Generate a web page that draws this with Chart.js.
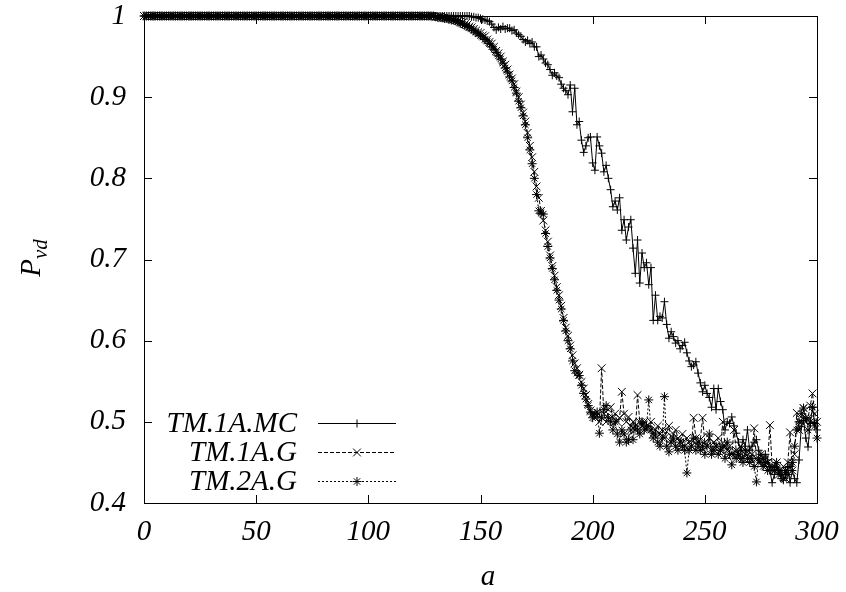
<!DOCTYPE html>
<html>
<head>
<meta charset="utf-8">
<script src="https://cdn.jsdelivr.net/npm/chart.js@4/dist/chart.umd.min.js"></script>
<style>
html, body { margin: 0; padding: 0; background: #fff; }
#wrap { width: 846px; height: 592px; }
</style>
</head>
<body>
<div id="wrap"><canvas id="pvdChart" width="846" height="592"></canvas></div>
<script>
// a values
var aValues = [
  0, 1, 2, 3, 4, 5, 6, 7, 8, 9, 10, 11, 12, 13, 14, 15, 16, 17, 18, 19,
  20, 21, 22, 23, 24, 25, 26, 27, 28, 29, 30, 31, 32, 33, 34, 35, 36, 37, 38, 39,
  40, 41, 42, 43, 44, 45, 46, 47, 48, 49, 50, 51, 52, 53, 54, 55, 56, 57, 58, 59,
  60, 61, 62, 63, 64, 65, 66, 67, 68, 69, 70, 71, 72, 73, 74, 75, 76, 77, 78, 79,
  80, 81, 82, 83, 84, 85, 86, 87, 88, 89, 90, 91, 92, 93, 94, 95, 96, 97, 98, 99,
  100, 101, 102, 103, 104, 105, 106, 107, 108, 109, 110, 111, 112, 113, 114, 115, 116, 117, 118, 119,
  120, 121, 122, 123, 124, 125, 126, 127, 128, 129, 130, 131, 132, 133, 134, 135, 136, 137, 138, 139,
  140, 141, 142, 143, 144, 145, 146, 147, 148, 149, 150, 151, 152, 153, 154, 155, 156, 157, 158, 159,
  160, 161, 162, 163, 164, 165, 166, 167, 168, 169, 170, 171, 172, 173, 174, 175, 176, 177, 178, 179,
  180, 181, 182, 183, 184, 185, 186, 187, 188, 189, 190, 191, 192, 193, 194, 195, 196, 197, 198, 199,
  200, 201, 202, 203, 204, 205, 206, 207, 208, 209, 210, 211, 212, 213, 214, 215, 216, 217, 218, 219,
  220, 221, 222, 223, 224, 225, 226, 227, 228, 229, 230, 231, 232, 233, 234, 235, 236, 237, 238, 239,
  240, 241, 242, 243, 244, 245, 246, 247, 248, 249, 250, 251, 252, 253, 254, 255, 256, 257, 258, 259,
  260, 261, 262, 263, 264, 265, 266, 267, 268, 269, 270, 271, 272, 273, 274, 275, 276, 277, 278, 279,
  280, 281, 282, 283, 284, 285, 286, 287, 288, 289, 290, 291, 292, 293, 294, 295, 296, 297, 298, 299,
  300
];

// TM.1A.MC  (a = 0 .. 145 at 1)
var mc1A = [
  1, 1, 1, 1, 1, 1, 1, 1, 1, 1, 1, 1, 1, 1, 1, 1, 1, 1, 1, 1,
  1, 1, 1, 1, 1, 1, 1, 1, 1, 1, 1, 1, 1, 1, 1, 1, 1, 1, 1, 1,
  1, 1, 1, 1, 1, 1, 1, 1, 1, 1, 1, 1, 1, 1, 1, 1, 1, 1, 1, 1,
  1, 1, 1, 1, 1, 1, 1, 1, 1, 1, 1, 1, 1, 1, 1, 1, 1, 1, 1, 1,
  1, 1, 1, 1, 1, 1, 1, 1, 1, 1, 1, 1, 1, 1, 1, 1, 1, 1, 1, 1,
  1, 1, 1, 1, 1, 1, 1, 1, 1, 1, 1, 1, 1, 1, 1, 1, 1, 1, 1, 1,
  1, 1, 1, 1, 1, 1, 1, 1, 1, 1, 1, 1, 1, 1, 1, 1, 1, 1, 1, 1,
  1, 1, 1, 1, 1, 1,
  0.999, 0.999, 0.998, 0.998, 0.997, 0.996, 0.995, 0.994, 0.993, 0.990,
  0.986, 0.983, 0.986, 0.984, 0.987, 0.984, 0.985, 0.985, 0.982, 0.983,
  0.979, 0.977, 0.975, 0.971, 0.968, 0.970, 0.966, 0.968, 0.962, 0.962,
  0.950, 0.952, 0.947, 0.942, 0.940, 0.934, 0.927, 0.930, 0.926, 0.924,
  0.916, 0.911, 0.908, 0.903, 0.915, 0.882, 0.911, 0.866, 0.870, 0.847,
  0.832, 0.840, 0.850, 0.851, 0.819, 0.810, 0.851, 0.840, 0.831, 0.808,
  0.816, 0.800, 0.786, 0.765, 0.772, 0.761, 0.776, 0.736, 0.749, 0.724,
  0.740, 0.749, 0.714, 0.683, 0.724, 0.671, 0.708, 0.690, 0.696, 0.669,
  0.690, 0.625, 0.656, 0.625, 0.630, 0.628, 0.648, 0.620, 0.603, 0.611,
  0.605, 0.597, 0.600, 0.590, 0.594, 0.598, 0.585, 0.575, 0.568, 0.570,
  0.574, 0.560, 0.548, 0.537, 0.545, 0.535, 0.530, 0.518, 0.541, 0.515,
  0.541, 0.525, 0.515, 0.490, 0.500, 0.498, 0.506, 0.495, 0.486, 0.475,
  0.465, 0.478, 0.470, 0.490, 0.465, 0.470, 0.475, 0.478, 0.465, 0.460,
  0.455, 0.460, 0.453, 0.440, 0.425, 0.435, 0.444, 0.437, 0.430, 0.428,
  0.435, 0.444, 0.425, 0.440, 0.430, 0.425, 0.453, 0.494, 0.502, 0.480,
  0.469, 0.498, 0.518, 0.498, 0.490
];

// TM.1A.G  (a = 0 .. 129 at 1)
var g1A = [
  1, 1, 1, 1, 1, 1, 1, 1, 1, 1, 1, 1, 1, 1, 1, 1, 1, 1, 1, 1,
  1, 1, 1, 1, 1, 1, 1, 1, 1, 1, 1, 1, 1, 1, 1, 1, 1, 1, 1, 1,
  1, 1, 1, 1, 1, 1, 1, 1, 1, 1, 1, 1, 1, 1, 1, 1, 1, 1, 1, 1,
  1, 1, 1, 1, 1, 1, 1, 1, 1, 1, 1, 1, 1, 1, 1, 1, 1, 1, 1, 1,
  1, 1, 1, 1, 1, 1, 1, 1, 1, 1, 1, 1, 1, 1, 1, 1, 1, 1, 1, 1,
  1, 1, 1, 1, 1, 1, 1, 1, 1, 1, 1, 1, 1, 1, 1, 1, 1, 1, 1, 1,
  1, 1, 1, 1, 1, 1, 1, 1, 1, 1,
  0.999, 0.999, 0.999, 0.998, 0.998, 0.997, 0.997, 0.996, 0.996, 0.995,
  0.994, 0.993, 0.992, 0.990, 0.989, 0.987, 0.986, 0.984, 0.982, 0.980,
  0.979, 0.976, 0.975, 0.971, 0.968, 0.966, 0.962, 0.957, 0.954, 0.950,
  0.944, 0.940, 0.934, 0.928, 0.923, 0.916, 0.907, 0.900, 0.891, 0.881,
  0.870, 0.856, 0.840, 0.826, 0.808, 0.790, 0.776, 0.760, 0.748, 0.736,
  0.722, 0.705, 0.692, 0.680, 0.666, 0.656, 0.643, 0.628, 0.616, 0.606,
  0.594, 0.582, 0.572, 0.566, 0.558, 0.549, 0.541, 0.533, 0.522, 0.514,
  0.510,
  0.505, 0.508, 0.500, 0.566, 0.510, 0.500, 0.515, 0.518, 0.505, 0.510,
  0.500, 0.505, 0.537, 0.510, 0.500, 0.506, 0.495, 0.500, 0.490, 0.533,
  0.500, 0.495, 0.500, 0.490, 0.495, 0.500, 0.485, 0.490, 0.495, 0.485,
  0.490, 0.480, 0.488, 0.495, 0.475, 0.485, 0.490, 0.480, 0.475, 0.485,
  0.470, 0.480, 0.475, 0.470, 0.505, 0.480, 0.470, 0.478, 0.505, 0.475,
  0.470, 0.480, 0.465, 0.475, 0.470, 0.480, 0.465, 0.500, 0.470, 0.465,
  0.470, 0.460, 0.490, 0.465, 0.460, 0.470, 0.455, 0.460, 0.465, 0.455,
  0.460, 0.492, 0.455, 0.450, 0.460, 0.455, 0.445, 0.450, 0.496, 0.445,
  0.440, 0.450, 0.435, 0.440, 0.445, 0.430, 0.450, 0.487, 0.440, 0.460,
  0.511, 0.490, 0.500, 0.517, 0.500, 0.505, 0.520, 0.535, 0.510, 0.500
];

// TM.2A.G  (a = 0 .. 129 at 1)
var g2A = [
  1, 1, 1, 1, 1, 1, 1, 1, 1, 1, 1, 1, 1, 1, 1, 1, 1, 1, 1, 1,
  1, 1, 1, 1, 1, 1, 1, 1, 1, 1, 1, 1, 1, 1, 1, 1, 1, 1, 1, 1,
  1, 1, 1, 1, 1, 1, 1, 1, 1, 1, 1, 1, 1, 1, 1, 1, 1, 1, 1, 1,
  1, 1, 1, 1, 1, 1, 1, 1, 1, 1, 1, 1, 1, 1, 1, 1, 1, 1, 1, 1,
  1, 1, 1, 1, 1, 1, 1, 1, 1, 1, 1, 1, 1, 1, 1, 1, 1, 1, 1, 1,
  1, 1, 1, 1, 1, 1, 1, 1, 1, 1, 1, 1, 1, 1, 1, 1, 1, 1, 1, 1,
  1, 1, 1, 1, 1, 1, 1, 1, 1, 1,
  0.999, 0.998, 0.998, 0.998, 0.997, 0.997, 0.996, 0.995, 0.995, 0.994,
  0.993, 0.991, 0.990, 0.989, 0.987, 0.986, 0.984, 0.982, 0.980, 0.978,
  0.976, 0.974, 0.971, 0.969, 0.966, 0.962, 0.959, 0.955, 0.951, 0.947,
  0.942, 0.936, 0.931, 0.925, 0.920, 0.912, 0.905, 0.895, 0.887, 0.877,
  0.866, 0.850, 0.835, 0.818, 0.800, 0.780, 0.760, 0.757, 0.756, 0.732,
  0.716, 0.702, 0.689, 0.675, 0.662, 0.650, 0.639, 0.625, 0.612, 0.600,
  0.590, 0.575, 0.563, 0.560, 0.557, 0.545, 0.535, 0.528, 0.520, 0.512,
  0.505,
  0.510, 0.512, 0.486, 0.505, 0.515, 0.520, 0.505, 0.500, 0.490, 0.500,
  0.485, 0.475, 0.490, 0.485, 0.475, 0.478, 0.490, 0.478, 0.495, 0.490,
  0.485, 0.500, 0.490, 0.495, 0.527, 0.490, 0.480, 0.485, 0.475, 0.470,
  0.480, 0.531, 0.470, 0.463, 0.475, 0.480, 0.470, 0.465, 0.475, 0.470,
  0.465, 0.437, 0.465, 0.470, 0.480, 0.465, 0.475, 0.465, 0.470, 0.460,
  0.470, 0.485, 0.460, 0.465, 0.470, 0.460, 0.465, 0.470, 0.455, 0.475,
  0.460, 0.447, 0.460, 0.455, 0.460, 0.455, 0.450, 0.465, 0.455, 0.450,
  0.455, 0.445, 0.426, 0.455, 0.450, 0.445, 0.450, 0.440, 0.445, 0.440,
  0.445, 0.450, 0.440, 0.435, 0.430, 0.440, 0.435, 0.445, 0.450, 0.470,
  0.490, 0.500, 0.510, 0.517, 0.505, 0.490, 0.500, 0.518, 0.495, 0.480
];

var seriesNames = ["TM.1A.MC", "TM.1A.G", "TM.2A.G"];
var xTicks = [0, 50, 100, 150, 200, 250, 300];
var yTicks = [0.4, 0.5, 0.6, 0.7, 0.8, 0.9, 1];

var serif = "'Liberation Serif', 'DejaVu Serif', serif";

function toPoints(ys) {
  return aValues.map(function(a, i) { return { x: a, y: ys[i] }; });
}

// frame with inward ticks, like gnuplot
var framePlugin = {
  id: 'frame',
  afterDatasetsDraw: function(chart) {
    var ctx = chart.ctx, area = chart.chartArea;
    var xs = chart.scales.x, ys = chart.scales.y;
    ctx.save();
    ctx.strokeStyle = '#000';
    ctx.lineWidth = 1;
    ctx.setLineDash([]);
    ctx.strokeRect(area.left + 0.5, area.top + 0.5, area.right - area.left, area.bottom - area.top);
    ctx.beginPath();
    xTicks.forEach(function(v) {
      var px = Math.round(xs.getPixelForValue(v)) + 0.5;
      ctx.moveTo(px, area.bottom); ctx.lineTo(px, area.bottom - 8);
      ctx.moveTo(px, area.top); ctx.lineTo(px, area.top + 8);
    });
    yTicks.forEach(function(v) {
      var py = Math.round(ys.getPixelForValue(v)) + 0.5;
      ctx.moveTo(area.left, py); ctx.lineTo(area.left + 8, py);
      ctx.moveTo(area.right, py); ctx.lineTo(area.right - 8, py);
    });
    ctx.stroke();
    ctx.restore();
  }
};

// axis titles and the key (inside the plot, bottom left)
var labelPlugin = {
  id: 'labels',
  afterDraw: function(chart) {
    var ctx = chart.ctx;
    ctx.save();
    ctx.fillStyle = '#000';
    ctx.textBaseline = 'alphabetic';

    ctx.font = 'italic 29px ' + serif;
    ctx.textAlign = 'center';
    ctx.fillText('a', 488, 585);

    // P_vd, rotated
    ctx.translate(40, 258);
    ctx.rotate(-Math.PI / 2);
    ctx.textAlign = 'left';
    ctx.font = 'italic 29px ' + serif;
    var pw = ctx.measureText('P').width;
    ctx.font = 'italic 21px ' + serif;
    var sw = ctx.measureText('vd').width;
    var start = -(pw + sw) / 2;
    ctx.font = 'italic 29px ' + serif;
    ctx.fillText('P', start, 0);
    ctx.font = 'italic 21px ' + serif;
    ctx.fillText('vd', start + pw, 7);
    ctx.restore();

    ctx.save();
    var rows = [423, 452, 481];
    chart.data.datasets.forEach(function(ds, i) {
      var y = rows[i];
      ctx.fillStyle = '#000';
      ctx.font = 'italic 29px ' + serif;
      ctx.textAlign = 'right';
      ctx.textBaseline = 'middle';
      ctx.fillText(seriesNames[i], 297, y + 1);
      ctx.strokeStyle = '#000';
      ctx.lineWidth = 1;
      ctx.setLineDash(ds.borderDash || []);
      ctx.beginPath();
      ctx.moveTo(318, y + 0.5);
      ctx.lineTo(396, y + 0.5);
      ctx.stroke();
      ctx.setLineDash([]);
      Chart.helpers.drawPoint(ctx, {
        pointStyle: ds.pointStyle,
        radius: ds.pointRadius,
        borderWidth: 1,
        rotation: 0
      }, 357, y + 0.5);
    });
    ctx.restore();
  }
};

var ctx = document.getElementById('pvdChart');
var pvdChart = new Chart(ctx, {
  type: 'line',
  data: {
    datasets: [{
      label: seriesNames[0],
      data: toPoints(mc1A),
      borderColor: '#000',
      borderWidth: 1,
      pointStyle: 'cross',
      pointRadius: 4,
      pointBorderColor: '#000',
      pointBorderWidth: 1,
      fill: false,
      clip: false
    }, {
      label: seriesNames[1],
      data: toPoints(g1A),
      borderColor: '#000',
      borderWidth: 1,
      borderDash: [4, 2],
      pointStyle: 'crossRot',
      pointRadius: 5.5,
      pointBorderColor: '#000',
      pointBorderWidth: 1,
      fill: false,
      clip: false
    }, {
      label: seriesNames[2],
      data: toPoints(g2A),
      borderColor: '#000',
      borderWidth: 1,
      borderDash: [2, 2],
      pointStyle: 'star',
      pointRadius: 4.5,
      pointBorderColor: '#000',
      pointBorderWidth: 1,
      fill: false,
      clip: false
    }]
  },
  options: {
    responsive: false,
    animation: false,
    devicePixelRatio: 1,
    layout: { padding: { left: 0, right: 29, top: 16, bottom: 0 } },
    plugins: {
      legend: { display: false },
      tooltip: { enabled: false }
    },
    elements: { line: { tension: 0 } },
    scales: {
      x: {
        type: 'linear',
        min: 0,
        max: 300,
        afterBuildTicks: function(scale) {
          scale.ticks = xTicks.map(function(v) { return { value: v }; });
        },
        afterFit: function(scale) {
          scale.height = 89;
          scale.paddingLeft = 0; scale.paddingRight = 0;
        },
        grid: { display: false, drawTicks: false },
        border: { display: false },
        ticks: {
          color: '#000',
          padding: 12,
          maxRotation: 0,
          font: { family: serif, style: 'italic', size: 29 }
        }
      },
      y: {
        type: 'linear',
        min: 0.4,
        max: 1,
        afterBuildTicks: function(scale) {
          scale.ticks = yTicks.map(function(v) { return { value: v }; });
        },
        afterFit: function(scale) {
          scale.width = 144;
          scale.paddingTop = 0; scale.paddingBottom = 0;
        },
        grid: { display: false, drawTicks: false },
        border: { display: false },
        ticks: {
          color: '#000',
          padding: 18,
          font: { family: serif, style: 'italic', size: 29 },
          callback: function(v) { return String(v); }
        }
      }
    }
  },
  plugins: [framePlugin, labelPlugin]
});
</script>
</body>
</html>
